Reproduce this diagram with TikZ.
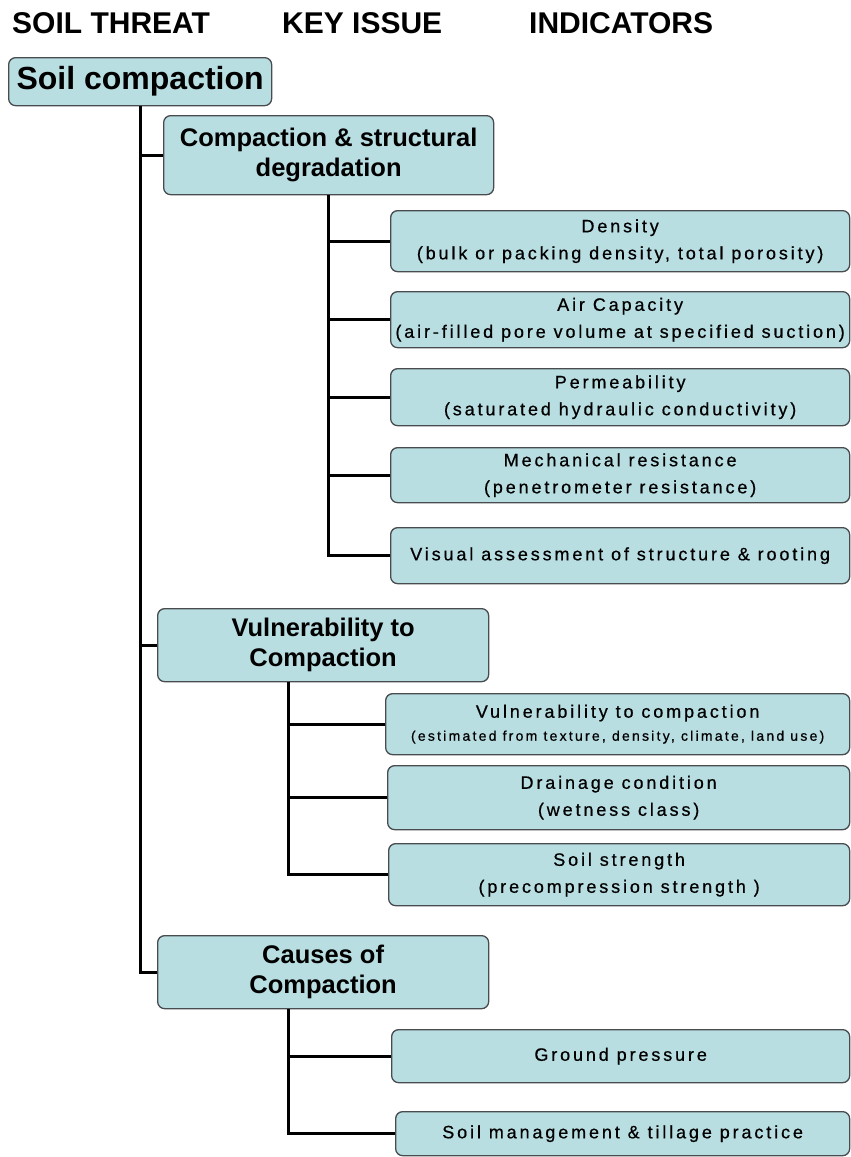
\documentclass[tikz,border=0pt]{standalone}
\usepackage{fontspec}
\setmainfont{Liberation Sans}
\newfontfamily\indfont[LetterSpace=16,FakeBold=0.6]{Liberation Sans}
\definecolor{boxfill}{RGB}{184,222,226}
\definecolor{boxline}{RGB}{72,76,78}
\begin{document}
\begin{tikzpicture}[x=1pt,y=-1pt,
  hdr/.style={inner sep=0pt, anchor=base west, font=\fontsize{30}{34}\selectfont\bfseries},
  box/.style={draw=boxline, fill=boxfill, rounded corners=7pt, line width=1.3pt, inner sep=0pt, anchor=north west, align=center},
  keytext/.style={font=\fontsize{25.5}{30}\selectfont\bfseries},
  indtext/.style={font=\indfont\fontsize{18}{27}\selectfont},
  conn/.style={line width=3pt, black}]
\useasboundingbox (0,0) rectangle (851,1157);
% headers
\node[hdr] (h1) at (12,33) {SOIL THREAT};
\node[hdr] (h2) at (282,33) {KEY ISSUE};
\node[hdr] (h3) at (529,33) {INDICATORS};
% soil threat
\node[box, minimum width=263pt, minimum height=48pt, font=\fontsize{32}{36}\selectfont\bfseries] (sc) at (8,57) {Soil compaction};
% key issues
\node[box, keytext, minimum width=330pt, minimum height=79pt] (cb) at (163,115) {Compaction \& structural\\degradation};
\node[box, keytext, minimum width=331pt, minimum height=73pt] (vb) at (157,608) {Vulnerability to\\Compaction};
\node[box, keytext, minimum width=331pt, minimum height=73pt] (cau) at (157,935) {Causes of\\Compaction};
% indicators: compaction & structural degradation
\node[box, indtext, minimum width=459pt, minimum height=61pt] (den) at (390,210) {Density\\(bulk or packing density, total porosity)};
\node[box, indtext, minimum width=459pt, minimum height=56pt] (air) at (390,291) {Air Capacity\\(air-filled pore volume at specified suction)};
\node[box, indtext, minimum width=459pt, minimum height=57pt] (perm) at (390,368) {Permeability\\(saturated hydraulic conductivity)};
\node[box, indtext, minimum width=459pt, minimum height=55pt] (mech) at (390,447) {Mechanical resistance\\(penetrometer resistance)};
\node[box, indtext, minimum width=459pt, minimum height=56pt] (vis) at (390,527) {Visual assessment of structure \& rooting};
% indicators: vulnerability
\node[box, indtext, minimum width=464pt, minimum height=61pt] (v1) at (385,693) {Vulnerability to compaction\\[-4pt]{\indfont\fontsize{14}{18}\selectfont (estimated from texture, density, climate, land use)}};
\node[box, indtext, minimum width=462pt, minimum height=64pt] (v2) at (387,765) {Drainage condition\\(wetness class)};
\node[box, indtext, minimum width=461pt, minimum height=62pt] (v3) at (388,843) {Soil strength\\(precompression strength )};
% indicators: causes
\node[box, indtext, minimum width=458pt, minimum height=53pt] (gp) at (391,1029) {Ground pressure};
\node[box, indtext, minimum width=454pt, minimum height=44pt] (sm) at (395,1111) {Soil management \& tillage practice};
% connectors
\draw[conn] (sc.south) |- (cau.west);
\draw[conn] (sc.south |- cb.west) -- (cb.west);
\draw[conn] (sc.south |- vb.west) -- (vb.west);
\draw[conn] (cb.south) |- (vis.west);
\draw[conn] (cb.south |- den.west) -- (den.west);
\draw[conn] (cb.south |- air.west) -- (air.west);
\draw[conn] (cb.south |- perm.west) -- (perm.west);
\draw[conn] (cb.south |- mech.west) -- (mech.west);
\coordinate (vbs) at ([xshift=131pt]vb.south west);
\draw[conn] (vbs) |- (v3.west);
\draw[conn] (vbs |- v1.west) -- (v1.west);
\draw[conn] (vbs |- v2.west) -- (v2.west);
\coordinate (caus) at ([xshift=131pt]cau.south west);
\draw[conn] (caus) |- (sm.west);
\draw[conn] (caus |- gp.west) -- (gp.west);
\end{tikzpicture}
\end{document}
